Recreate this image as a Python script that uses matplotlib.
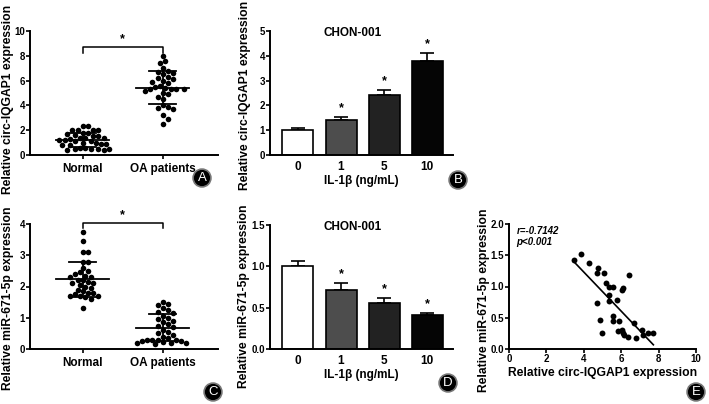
import numpy as np
import matplotlib
matplotlib.use('Agg')
import matplotlib.pyplot as plt

plt.rcParams['font.family'] = ['Liberation Sans', 'DejaVu Sans']
plt.rcParams['font.weight'] = 'bold'

# ---- data ----
groups = ['Normal', 'OA patients']
circ_normal = [2.3, 2.3, 2.0, 2.0, 2.0, 2.0, 1.8, 1.8, 1.7, 1.6, 1.5, 1.5, 1.4, 1.4, 1.4,
               1.3, 1.2, 1.2, 1.1, 1.1, 1.0, 1.0, 0.9, 0.9, 0.8, 0.8, 0.6, 0.6, 0.5, 0.5,
               0.5, 0.5, 0.4, 0.4]
circ_oa = [8.0, 7.6, 7.4, 7.0, 6.8, 6.7, 6.6, 6.5, 6.3, 6.2, 6.1, 6.0, 5.9, 5.8, 5.6, 5.5,
           5.4, 5.35, 5.3, 5.3, 5.3, 5.2, 5.0, 4.9, 4.7, 4.5, 4.0, 3.9, 3.8, 3.7, 3.2, 2.9, 2.5]
mir_normal = [3.75, 3.45, 3.1, 3.1, 2.8, 2.8, 2.6, 2.5, 2.45, 2.4, 2.35, 2.3, 2.3, 2.2, 2.2,
              2.15, 2.1, 2.1, 2.05, 2.0, 1.95, 1.9, 1.85, 1.8, 1.8, 1.75, 1.7, 1.7, 1.7,
              1.65, 1.6, 1.3]
mir_oa = [1.5, 1.45, 1.4, 1.3, 1.25, 1.2, 1.15, 1.05, 1.0, 0.95, 0.9, 0.85, 0.8, 0.75, 0.7,
          0.6, 0.55, 0.5, 0.45, 0.4, 0.35, 0.3, 0.3, 0.3, 0.28, 0.25, 0.25, 0.22, 0.2, 0.2,
          0.18, 0.15]

doses = ['0', '1', '5', '10']
circ_bar = [1.0, 1.42, 2.42, 3.8]
circ_err = [0.08, 0.12, 0.22, 0.33]
mir_bar = [1.0, 0.71, 0.56, 0.41]
mir_err = [0.07, 0.09, 0.06, 0.03]
bar_colors = ['white', '#4d4d4d', '#222222', '#050505']

corr_x = [3.48, 3.85, 4.30, 4.78, 4.69, 5.10, 5.19, 5.37, 5.58, 5.37, 6.03, 6.10, 6.43, 5.35,
          5.76, 4.69, 5.58, 5.58, 5.90, 4.87, 5.85, 6.02, 6.11, 6.15, 6.38, 6.68, 6.79, 7.09,
          7.15, 7.45, 7.72, 4.97]
corr_y = [1.42, 1.52, 1.38, 1.30, 1.22, 1.22, 1.05, 1.00, 1.00, 0.87, 0.95, 0.97, 1.18, 0.77,
          0.78, 0.74, 0.53, 0.45, 0.45, 0.47, 0.29, 0.30, 0.25, 0.22, 0.20, 0.42, 0.17, 0.30,
          0.22, 0.25, 0.25, 0.25]

W, H = 709, 404
LAB = 8.7  # axis label size
fig = plt.figure(figsize=(W / 100, H / 100), dpi=100)


def ax_at(x0, y0, x1, y1):
    # pixel box -> axes
    return fig.add_axes([x0 / W, 1 - y1 / H, (x1 - x0) / W, (y1 - y0) / H])


def style(ax):
    for s in ['top', 'right']:
        ax.spines[s].set_visible(False)
    for s in ['left', 'bottom']:
        ax.spines[s].set_linewidth(1.4)
    ax.tick_params(width=1.2, length=3, labelsize=7, pad=0.5)
    for t in ax.get_xticklabels() + ax.get_yticklabels():
        t.set_fontweight('bold')


def ylab(ax, text, px, py, box):
    # y label centre at pixel (px, py)
    x0, y0, x1, y1 = box
    ax.set_ylabel(text, fontsize=LAB, fontweight='bold', va='center')
    ax.yaxis.set_label_coords((px - x0) / (x1 - x0), (y1 - py) / (y1 - y0))


def swarm(vals, center, px_per_y, px_per_x, d=5.2):
    vals = np.sort(np.array(vals))[::-1]
    placed = []
    xs = []
    step = d / 2.0
    for v in vals:
        yp = v * px_per_y
        k = 0
        while True:
            ok = None
            for off in ([0] if k == 0 else [k * step, -k * step]):
                if all((off - px) ** 2 + (yp - py) ** 2 >= d * d for px, py in placed):
                    ok = off
                    break
            if ok is not None:
                break
            k += 1
        placed.append((ok, yp))
        xs.append(center + ok / px_per_x)
    return xs, vals


def scatter_panel(ax, a, b, ymax, px_per_y):
    for i, vals in enumerate([a, b]):
        xs, vs = swarm(vals, i, px_per_y, 80.0)
        ax.scatter(xs, vs, s=16, color='black', zorder=3, linewidths=0)
        m, sd = np.mean(vals), np.std(vals, ddof=1)
        ax.plot([i - 0.33, i + 0.33], [m, m], color='black', lw=1.3, zorder=4)
        ax.plot([i, i], [m - sd, m + sd], color='black', lw=1.3, zorder=4)
        for yy in (m - sd, m + sd):
            ax.plot([i - 0.17, i + 0.17], [yy, yy], color='black', lw=1.3, zorder=4)
    ax.set_xlim(-0.66, 1.69)
    ax.set_ylim(0, ymax)
    ax.set_xticks([0, 1])
    ax.set_xticklabels(groups, fontsize=8.5, fontweight='bold')


# A
boxA = (30, 31, 218, 155)
axA = ax_at(*boxA)
scatter_panel(axA, circ_normal, circ_oa, 10, 12.4)
axA.set_yticks(range(0, 11, 2))
ylab(axA, 'Relative circ-IQGAP1 expression', 8, 99, boxA)
axA.plot([0, 0, 1, 1], [8.2, 8.7, 8.7, 8.2], color='black', lw=1.1, clip_on=False)
axA.text(0.5, 8.85, '*', ha='center', va='bottom', fontsize=9, fontweight='bold')
style(axA)
axA.tick_params(axis='x', labelsize=8.5, pad=3)

# C
boxC = (30, 224, 218, 349)
axC = ax_at(*boxC)
scatter_panel(axC, mir_normal, mir_oa, 4, 31.25)
axC.set_yticks(range(0, 5))
ylab(axC, 'Relative miR-671-5p expression', 8, 298, boxC)
axC.plot([0, 0, 1, 1], [3.87, 4.03, 4.03, 3.87], color='black', lw=1.1, clip_on=False)
axC.text(0.5, 4.08, '*', ha='center', va='bottom', fontsize=9, fontweight='bold')
style(axC)
axC.tick_params(axis='x', labelsize=8.5, pad=3)


def bar_panel(ax, vals, errs, ymax, yticks, fmt):
    x = np.arange(len(vals))
    ax.bar(x, vals, width=0.72, color=bar_colors, edgecolor='black', linewidth=1.2, zorder=2)
    ax.errorbar(x, vals, yerr=[np.zeros(len(errs)), errs], fmt='none', ecolor='black',
                elinewidth=1.2, capsize=5, capthick=1.2, zorder=1)
    for i in range(1, len(vals)):
        ax.text(x[i], vals[i] + errs[i] + ymax * 0.02, '*', ha='center', va='bottom',
                fontsize=9, fontweight='bold')
    ax.set_xlim(-0.65, 3.6)
    ax.set_ylim(0, ymax)
    ax.set_yticks(yticks)
    ax.set_yticklabels([fmt.format(t) for t in yticks])
    ax.set_xticks(x)
    ax.set_xticklabels(doses)
    ax.text(1.28, ymax * 0.985, 'CHON-001', fontsize=8.5, fontweight='bold', ha='center',
            va='center')
    ax.set_xlabel('IL-1β (ng/mL)', fontsize=8.5, fontweight='bold', labelpad=2)
    style(ax)
    ax.tick_params(axis='x', length=0, labelsize=8.5, pad=4)


# B
boxB = (270, 31, 453, 155)
axB = ax_at(*boxB)
bar_panel(axB, circ_bar, circ_err, 5, [0, 1, 2, 3, 4, 5], '{:.0f}')
ylab(axB, 'Relative circ-IQGAP1 expression', 245, 95, boxB)

# D
boxD = (270, 225, 453, 349)
axD = ax_at(*boxD)
bar_panel(axD, mir_bar, mir_err, 1.5, [0, 0.5, 1.0, 1.5], '{:.1f}')
ylab(axD, 'Relative miR-671-5p expression', 244, 296, boxD)

# E
boxE = (509, 224, 696, 349)
axE = ax_at(*boxE)
axE.scatter(corr_x, corr_y, s=18, color='black', linewidths=0, zorder=3)
k, c = np.polyfit(corr_x, corr_y, 1)
xl = np.array([min(corr_x), max(corr_x)])
axE.plot(xl, k * xl + c, color='black', lw=1.2)
axE.set_xlim(0, 10)
axE.set_ylim(0, 2.0)
axE.set_xticks(range(0, 11, 2))
axE.set_yticks([0, 0.5, 1.0, 1.5, 2.0])
axE.set_yticklabels(['0.0', '0.5', '1.0', '1.5', '2.0'])
axE.text(0.4, 1.97, 'r=-0.7142\np<0.001', fontsize=7, fontweight='bold', style='italic',
         va='top', ha='left', linespacing=1.1)
axE.set_xlabel('Relative circ-IQGAP1 expression', fontsize=LAB, fontweight='bold', labelpad=2)
ylab(axE, 'Relative miR-671-5p expression', 484, 300, boxE)
style(axE)

# panel letters
for lab, px, py in [('A', 202, 178), ('B', 458, 180), ('C', 213, 392), ('D', 448, 383), ('E', 696, 392)]:
    fig.text(px / W, 1 - py / H, lab, color='white', fontsize=9.5, ha='center', va='center',
             fontweight='normal',
             bbox=dict(boxstyle='circle,pad=0.22', fc='black', ec='#777777', lw=1.2))

fig.savefig('out.png', dpi=100)
